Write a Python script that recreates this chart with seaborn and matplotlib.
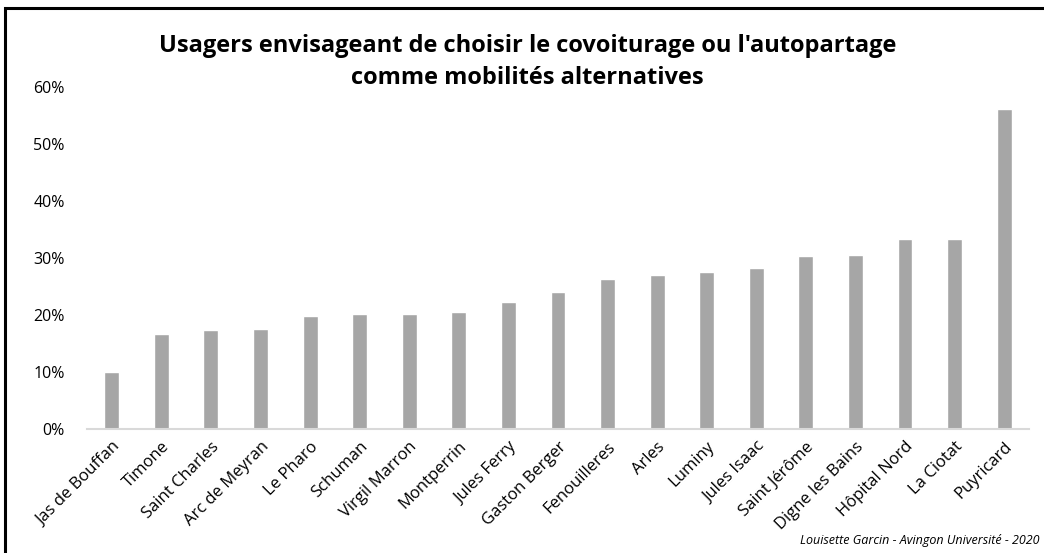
import matplotlib
matplotlib.use("Agg")
import matplotlib.pyplot as plt
import matplotlib.patches as mpatches
from matplotlib.ticker import PercentFormatter
import seaborn as sns
import pandas as pd

sites = ["Jas de Bouffan", "Timone", "Saint Charles", "Arc de Meyran", "Le Pharo",
         "Schuman", "Virgil Marron", "Montperrin", "Jules Ferry", "Gaston Berger",
         "Fenouilleres", "Arles", "Luminy", "Jules Isaac", "Saint Jérôme",
         "Digne les Bains", "Hôpital Nord", "La Ciotat", "Puyricard"]
shares = [0.100, 0.167, 0.173, 0.175, 0.198, 0.201, 0.201, 0.205, 0.223, 0.240,
          0.264, 0.270, 0.275, 0.282, 0.304, 0.305, 0.333, 0.333, 0.561]
y_ticks = [0.0, 0.1, 0.2, 0.3, 0.4, 0.5, 0.6]

title = "Usagers envisageant de choisir le covoiturage ou l'autopartage\ncomme mobilités alternatives"
credit = "Louisette Garcin - Avingon Université - 2020"

sns.set_theme(style="white")
plt.rcParams["font.family"] = ["Open Sans", "DejaVu Sans"]

df = pd.DataFrame({"site": sites, "share": shares})

fig = plt.figure(figsize=(10.44, 5.53), dpi=100)
ax = fig.add_axes([0.0833, 0.2242, 0.9023, 0.6185])

sns.barplot(data=df, x="site", y="share", color="#a6a6a6", width=0.3,
            saturation=1, ax=ax)

ax.set_xlim(-0.5, len(sites) - 0.5)
ax.set_ylim(0, 0.6)
ax.set_yticks(y_ticks)
ax.yaxis.set_major_formatter(PercentFormatter(1.0, decimals=0))
ax.set_xlabel("")
ax.set_ylabel("")

for side in ["top", "right", "left"]:
    ax.spines[side].set_visible(False)
ax.spines["bottom"].set_color("#d9d9d9")
ax.spines["bottom"].set_linewidth(1.5)
ax.tick_params(axis="both", length=0)
ax.tick_params(axis="y", labelsize=11.5, pad=16, colors="black")
ax.set_xticks(range(len(sites)))
ax.set_xticklabels(sites, rotation=45, ha="right", rotation_mode="anchor",
                   fontsize=12, color="black")
ax.tick_params(axis="x", pad=7)

fig.text(0.505, 0.888, title, ha="center", va="center", fontsize=17,
         fontweight="bold", linespacing=1.45, color="black")

fig.text(0.996, 0.022, credit, ha="right", va="center", fontsize=9,
         style="italic", color="black")

# outer frame around the chart
frame = mpatches.Rectangle((5 / 1044, -0.1), 1.2, (553 - 8) / 553 + 0.1,
                           transform=fig.transFigure, fill=False,
                           edgecolor="black", linewidth=2.2, clip_on=False)
fig.patches.append(frame)

fig.savefig("out.png", dpi=100, facecolor="white")
